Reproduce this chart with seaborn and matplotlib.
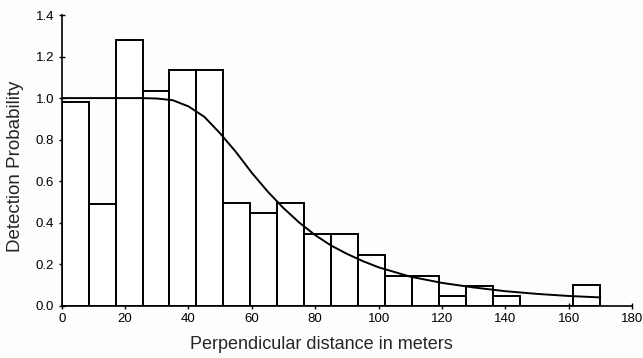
import numpy as np
import pandas as pd
import seaborn as sns
import matplotlib.pyplot as plt

# histogram bins (width 8.5 m) and scaled detection heights
bin_edges = [0, 8.5, 17, 25.5, 34, 42.5, 51, 59.5, 68, 76.5, 85, 93.5, 102,
             110.5, 119, 127.5, 136, 144.5, 153, 161.5, 170]
bin_heights = [0.98, 0.49, 1.28, 1.035, 1.135, 1.135, 0.495, 0.445, 0.495, 0.345,
               0.345, 0.245, 0.145, 0.145, 0.048, 0.095, 0.048, 0.0, 0.0, 0.10]

# fitted detection function
curve_x = [0, 10, 20, 25, 30, 35, 40, 45, 50, 55, 60, 65, 70, 75, 80, 85, 90,
           95, 100, 110, 120, 130, 140, 150, 160, 170]
curve_y = [1.0, 1.0, 1.0, 1.0, 0.998, 0.99, 0.96, 0.91, 0.83, 0.74, 0.64, 0.55,
           0.47, 0.40, 0.34, 0.29, 0.25, 0.215, 0.185, 0.14, 0.11, 0.088, 0.07,
           0.057, 0.047, 0.04]

x_ticks = [0, 20, 40, 60, 80, 100, 120, 140, 160, 180]
y_ticks = [0.0, 0.2, 0.4, 0.6, 0.8, 1.0, 1.2, 1.4]

sns.set_style("ticks")
plt.rcParams['font.family'] = ['Liberation Sans', 'DejaVu Sans']

bins = pd.DataFrame({
    "mid": [(a + b) / 2 for a, b in zip(bin_edges[:-1], bin_edges[1:])],
    "h": bin_heights,
})
curve = pd.DataFrame({"x": curve_x, "y": curve_y})

fig = plt.figure(figsize=(6.43, 3.58), dpi=100, facecolor="#fdfdfb")
ax = fig.add_axes([0.096, 0.146, 0.887, 0.812])
ax.set_facecolor("#fdfdfb")

sns.histplot(data=bins, x="mid", weights="h", bins=bin_edges, ax=ax,
             color="white", edgecolor="black", linewidth=1.4, alpha=1)
sns.lineplot(data=curve, x="x", y="y", ax=ax, color="black", linewidth=1.4)

ax.set_xlim(0, 180)
ax.set_ylim(0, 1.4)
ax.set_xticks(x_ticks)
ax.set_yticks(y_ticks)
ax.set_xticklabels([str(t) for t in x_ticks])
ax.set_yticklabels([f"{t:.1f}" for t in y_ticks])
ax.tick_params(direction="inout", length=5, width=1, labelsize=9.5, colors="black", pad=3)
for s in ["top", "right"]:
    ax.spines[s].set_visible(False)
for s in ["left", "bottom"]:
    ax.spines[s].set_linewidth(1.2)
    ax.spines[s].set_color("black")

ax.set_xlabel("Perpendicular distance in meters", fontsize=13)
ax.set_ylabel("Detection Probability", fontsize=13.5)
ax.xaxis.label.set_va("center")
ax.yaxis.label.set_va("center")
ax.xaxis.set_label_coords(0.456, -0.135)
ax.yaxis.set_label_coords(-0.081, 0.48)

fig.savefig("out.png", dpi=100, facecolor=fig.get_facecolor())
